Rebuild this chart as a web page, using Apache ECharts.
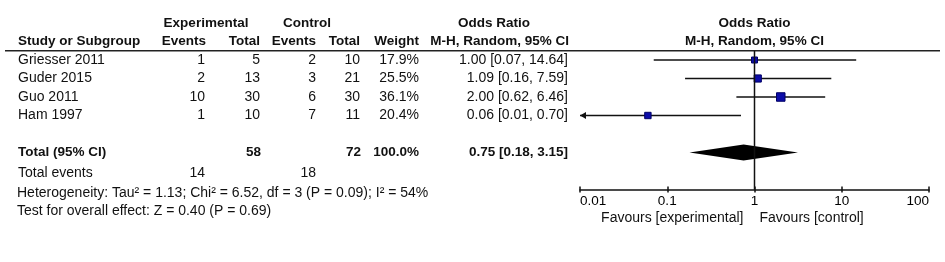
<!DOCTYPE html>
<html>
<head>
<meta charset="utf-8">
<script src="https://cdn.jsdelivr.net/npm/echarts@6/dist/echarts.min.js"></script>
<style>
html, body { margin: 0; padding: 0; background: #fff; }
#chart { width: 945px; height: 262px; }
</style>
</head>
<body>
<div id="chart"></div>
<script>
// 各研究資料
var studies = ["Griesser 2011", "Guder 2015", "Guo 2011", "Ham 1997"];
var expEvents = [1, 2, 10, 1];
var expTotal = [5, 13, 30, 10];
var ctrlEvents = [2, 3, 6, 7];
var ctrlTotal = [10, 21, 30, 11];
var weights = [17.9, 25.5, 36.1, 20.4];
var orEst = [1.00, 1.09, 2.00, 0.06];
var orLow = [0.07, 0.16, 0.62, 0.01];
var orHigh = [14.64, 7.59, 6.46, 0.70];

// 合併結果
var totalN = [58, 72];
var totalWeight = 100.0;
var pooled = [0.75, 0.18, 3.15]; // est, low, high
var totalEvents = [14, 18];
var heterogeneity = "Heterogeneity: Tau\u00b2 = 1.13; Chi\u00b2 = 6.52, df = 3 (P = 0.09); I\u00b2 = 54%";
var overallTest = "Test for overall effect: Z = 0.40 (P = 0.69)";

// 軸刻度
var tickValues = [0.01, 0.1, 1, 10, 100];
var tickLabels = ["0.01", "0.1", "1", "10", "100"];

var FONT = "Liberation Sans, Arial, sans-serif";
var FS = 14;   // 一般字
var FSB = 13.5; // 粗體字
var INK = "#111";

// 表格欄位位置 (px)
var col = { study: 18, expEv: 205, expTot: 260, ctrlEv: 316, ctrlTot: 360, weight: 419, or: 568 };

function fmtOR(e, l, h) {
	return e.toFixed(2) + " [" + l.toFixed(2) + ", " + h.toFixed(2) + "]";
}

// 左側表格文字
var texts = [];
function t(x, row, text, align, bold) {
	texts.push({ value: [x, row], text: String(text), align: align, bold: !!bold });
}
t(206, -2, "Experimental", "center", true);
t(307, -2, "Control", "center", true);
t(494, -2, "Odds Ratio", "center", true);
t(col.study, -1, "Study or Subgroup", "left", true);
t(col.expEv + 1, -1, "Events", "right", true);
t(col.expTot, -1, "Total", "right", true);
t(col.ctrlEv, -1, "Events", "right", true);
t(col.ctrlTot, -1, "Total", "right", true);
t(col.weight, -1, "Weight", "right", true);
t(col.or + 1, -1, "M-H, Random, 95% CI", "right", true);
studies.forEach(function (s, i) {
	t(col.study, i, s, "left");
	t(col.expEv, i, expEvents[i], "right");
	t(col.expTot, i, expTotal[i], "right");
	t(col.ctrlEv, i, ctrlEvents[i], "right");
	t(col.ctrlTot, i, ctrlTotal[i], "right");
	t(col.weight, i, weights[i].toFixed(1) + "%", "right");
	t(col.or, i, fmtOR(orEst[i], orLow[i], orHigh[i]), "right");
});
t(col.study, 5, "Total (95% CI)", "left", true);
t(col.expTot + 1, 5, totalN[0], "right", true);
t(col.ctrlTot + 1, 5, totalN[1], "right", true);
t(col.weight, 5, totalWeight.toFixed(1) + "%", "right", true);
t(col.or, 5, fmtOR(pooled[0], pooled[1], pooled[2]), "right", true);
t(col.study, 6.12, "Total events", "left");
t(col.expEv, 6.12, totalEvents[0], "right");
t(col.ctrlEv, 6.12, totalEvents[1], "right");
t(col.study - 1, 7.17, heterogeneity, "left");
t(col.study - 1, 8.15, overallTest, "left");

// 右側森林圖文字 (x 用 log 軸)
var plotTexts = [
	{ value: [1, -2], text: "Odds Ratio", align: "center", bold: true, dx: 0 },
	{ value: [1, -1], text: "M-H, Random, 95% CI", align: "center", bold: true, dx: 0 },
	{ value: [1, 8.55], text: "Favours [experimental]", align: "right", bold: false, dx: -11 },
	{ value: [1, 8.55], text: "Favours [control]", align: "left", bold: false, dx: 5 }
];

function textRenderer(list) {
	return function (params, api) {
		var d = list[params.dataIndex];
		var p = api.coord([api.value(0), api.value(1)]);
		return {
			type: "text",
			x: p[0] + (d.dx || 0),
			y: p[1],
			style: {
				text: d.text,
				align: d.align,
				verticalAlign: "middle",
				fontSize: d.bold ? FSB : FS,
				fontWeight: d.bold ? "bold" : "normal",
				fontFamily: FONT,
				fill: INK
			}
		};
	};
}

var axisMin = 0.01, axisMax = 100;
var squareK = 6 / Math.sqrt(17.9);

// 各研究: 信賴區間 + 方塊
function renderStudy(params, api) {
	var est = api.value(0), lo = api.value(1), hi = api.value(2), w = api.value(3), row = api.value(4);
	var a = api.coord([Math.max(lo, axisMin), row]);
	var b = api.coord([Math.min(hi, axisMax), row]);
	var c = api.coord([est, row]);
	var s = squareK * Math.sqrt(w);
	var children = [
		{ type: "line", shape: { x1: a[0], y1: a[1], x2: b[0], y2: b[1] }, style: { stroke: INK, lineWidth: 1.5 } },
		{ type: "rect", shape: { x: c[0] - s / 2, y: c[1] - s / 2, width: s, height: s }, style: { fill: "#0c0ca8", stroke: "#000066", lineWidth: 1 } }
	];
	if (lo <= axisMin) {
		children.push({ type: "polygon", shape: { points: [[a[0], a[1]], [a[0] + 6, a[1] - 3.5], [a[0] + 6, a[1] + 3.5]] }, style: { fill: INK } });
	}
	if (hi >= axisMax) {
		children.push({ type: "polygon", shape: { points: [[b[0], b[1]], [b[0] - 6, b[1] - 3.5], [b[0] - 6, b[1] + 3.5]] }, style: { fill: INK } });
	}
	return { type: "group", children: children };
}

// 合併菱形
function renderDiamond(params, api) {
	var row = api.value(3);
	var l = api.coord([api.value(1), row]);
	var c = api.coord([api.value(0), row]);
	var r = api.coord([api.value(2), row]);
	var h = 8;
	return {
		type: "polygon",
		shape: { points: [[l[0], l[1]], [c[0], c[1] - h], [r[0], r[1]], [c[0], c[1] + h]] },
		style: { fill: "#000" }
	};
}

var myChart = echarts.init(document.getElementById("chart"), null, { renderer: "canvas" });
var option = {
	animation: false,
	backgroundColor: "#fff",
	grid: [
		{ left: 0, right: 0, top: 4.5, height: 240.5 },
		{ left: 580, right: 16, top: 4.5, height: 185 }
	],
	xAxis: [
		{ gridIndex: 0, type: "value", min: 0, max: 945, show: false },
		{
			gridIndex: 1, type: "log", logBase: 10, min: axisMin, max: axisMax, splitNumber: 4,
			position: "bottom",
			axisLine: { onZero: false, lineStyle: { color: INK, width: 1.5 } },
			axisTick: { show: true, length: 3, lineStyle: { color: INK, width: 1.5 } },
			minorTick: { show: false },
			splitLine: { show: false },
			axisLabel: {
				color: "#000", fontSize: 13.5, fontFamily: FONT, margin: 5,
				alignMinLabel: "left", alignMaxLabel: "right",
				formatter: function (v) {
					var k = Math.round(Math.log10(v)) + 2;
					return tickLabels[k] !== undefined ? tickLabels[k] : "";
				}
			}
		},
		{
			gridIndex: 1, type: "log", logBase: 10, min: axisMin, max: axisMax, splitNumber: 4,
			position: "bottom",
			axisLine: { show: false, onZero: false },
			axisTick: { show: true, inside: true, length: 3, lineStyle: { color: INK, width: 1.5 } },
			minorTick: { show: false },
			splitLine: { show: false },
			axisLabel: { show: false }
		}
	],
	yAxis: [
		{ gridIndex: 0, type: "value", inverse: true, min: -3, max: 10, show: false },
		{ gridIndex: 1, type: "value", inverse: true, min: -3, max: 7, show: false }
	],
	series: [
		{
			// 表頭分隔線
			type: "line", xAxisIndex: 0, yAxisIndex: 0, silent: true, symbol: "none",
			lineStyle: { color: "#222", width: 1.5 },
			data: [[5, -0.5], [940, -0.5]]
		},
		{
			type: "custom", xAxisIndex: 0, yAxisIndex: 0, silent: true,
			renderItem: textRenderer(texts),
			data: texts.map(function (d) { return d.value; })
		},
		{
			// 無效線 OR = 1
			type: "line", xAxisIndex: 1, yAxisIndex: 1, silent: true, symbol: "none",
			lineStyle: { color: INK, width: 1.5 },
			data: [[1, -0.5], [1, 7]]
		},
		{
			type: "custom", xAxisIndex: 1, yAxisIndex: 1, silent: true,
			renderItem: renderStudy,
			encode: { x: [0, 1, 2], y: 4 },
			data: studies.map(function (s, i) { return [orEst[i], orLow[i], orHigh[i], weights[i], i]; })
		},
		{
			type: "custom", xAxisIndex: 1, yAxisIndex: 1, silent: true,
			renderItem: renderDiamond,
			encode: { x: [0, 1, 2], y: 3 },
			data: [[pooled[0], pooled[1], pooled[2], 5]]
		},
		{
			type: "custom", xAxisIndex: 1, yAxisIndex: 1, silent: true, clip: false,
			renderItem: textRenderer(plotTexts),
			data: plotTexts.map(function (d) { return d.value; })
		}
	]
};
myChart.setOption(option);
window.addEventListener("resize", myChart.resize);
</script>
</body>
</html>
